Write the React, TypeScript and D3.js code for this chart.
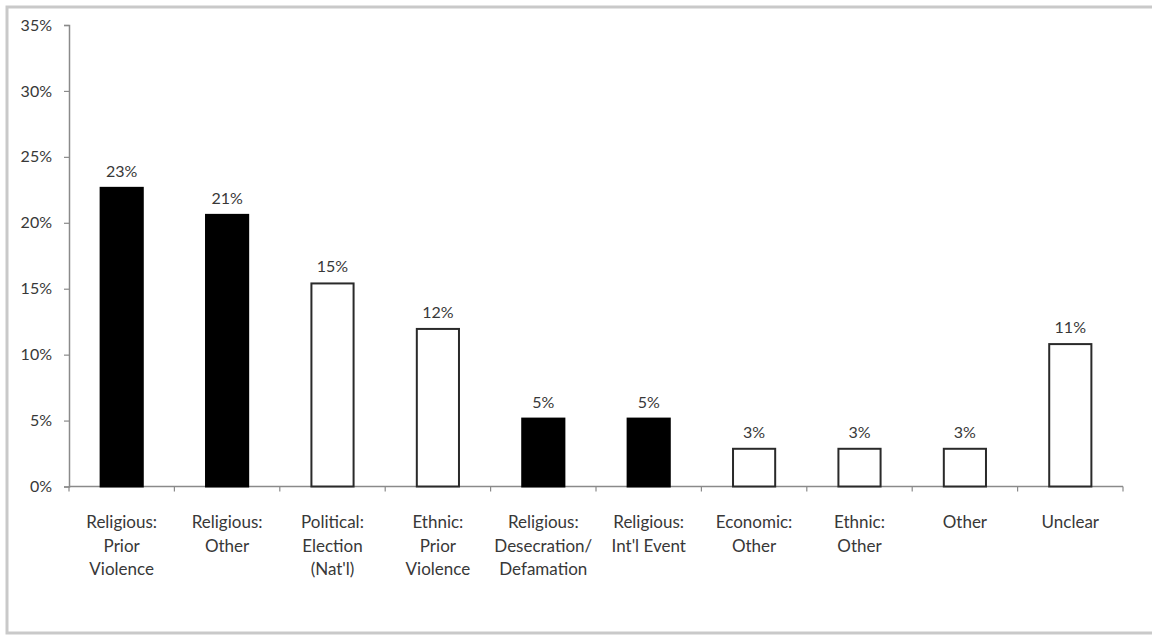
import React, { useEffect, useRef } from "react";
import * as d3 from "d3";

// Motive categories (multi-line labels) and their share of events
const categories: string[][] = [
  ["Religious:", "Prior", "Violence"],
  ["Religious:", "Other"],
  ["Political:", "Election", "(Nat'l)"],
  ["Ethnic:", "Prior", "Violence"],
  ["Religious:", "Desecration/", "Defamation"],
  ["Religious:", "Int'l Event"],
  ["Economic:", "Other"],
  ["Ethnic:", "Other"],
  ["Other"],
  ["Unclear"],
];
const shares: number[] = [0.2265, 0.206, 0.154, 0.1195, 0.0515, 0.0515, 0.0286, 0.0286, 0.0286, 0.108];
const isReligious: boolean[] = [true, true, false, false, true, true, false, false, false, false];
const yTicks: number[] = [0, 0.05, 0.1, 0.15, 0.2, 0.25, 0.3, 0.35];

const W = 1152;
const H = 635;
const FONT = "Lato, 'Open Sans', sans-serif";

export default function App() {
  const ref = useRef<SVGSVGElement>(null);

  useEffect(() => {
    const svg = d3.select(ref.current);
    svg.selectAll("*").remove();

    const left = 69;
    const right = 1123;
    const y0 = 486.5;
    const yTop = 25;

    const keys = categories.map((c) => c.join(" "));
    const x = d3.scaleBand<string>().domain(keys).range([left, right]).paddingInner(0.6).paddingOuter(0.3);
    const y = d3.scaleLinear().domain([0, 0.35]).range([y0, yTop]);
    const pct = d3.format(".0%");

    // outer frame
    svg
      .append("rect")
      .attr("x", 7)
      .attr("y", 7)
      .attr("width", W + 10)
      .attr("height", 626)
      .attr("fill", "#fff")
      .attr("stroke", "#c9c9c9")
      .attr("stroke-width", 3);

    // y axis
    const yAxis = d3
      .axisLeft(y)
      .tickValues(yTicks)
      .tickFormat((d) => pct(d as number))
      .tickSize(5)
      .tickPadding(12);
    const gy = svg.append("g").attr("transform", `translate(${left},0)`).call(yAxis);
    gy.select(".domain").attr("stroke", "#8a8a8a").attr("stroke-width", 1.5);
    gy.selectAll(".tick line").attr("stroke", "#8a8a8a").attr("stroke-width", 1.2);
    gy.selectAll(".tick text")
      .attr("fill", "#383838")
      .style("font-family", FONT)
      .style("font-size", "16px");

    // x axis baseline with ticks at band edges
    svg
      .append("line")
      .attr("x1", left)
      .attr("x2", right)
      .attr("y1", y0)
      .attr("y2", y0)
      .attr("stroke", "#8a8a8a")
      .attr("stroke-width", 1.5);
    const step = x.step();
    const edges = d3.range(keys.length + 1).map((i) => left + i * step);
    svg
      .append("g")
      .selectAll("line")
      .data(edges)
      .join("line")
      .attr("x1", (d) => d)
      .attr("x2", (d) => d)
      .attr("y1", y0)
      .attr("y2", y0 + 5)
      .attr("stroke", "#8a8a8a")
      .attr("stroke-width", 1.2);

    // bars
    svg
      .append("g")
      .selectAll("rect")
      .data(shares)
      .join("rect")
      .attr("x", (_, i) => x(keys[i])!)
      .attr("y", (d) => y(d))
      .attr("width", x.bandwidth())
      .attr("height", (d) => y0 - y(d))
      .attr("fill", (_, i) => (isReligious[i] ? "#000" : "#fff"))
      .attr("stroke", (_, i) => (isReligious[i] ? "#000" : "#2a2a2a"))
      .attr("stroke-width", 2);

    // value labels
    svg
      .append("g")
      .selectAll("text")
      .data(shares)
      .join("text")
      .attr("x", (_, i) => x(keys[i])! + x.bandwidth() / 2)
      .attr("y", (d) => y(d) - 11)
      .attr("text-anchor", "middle")
      .attr("fill", "#383838")
      .style("font-family", FONT)
      .style("font-size", "16px")
      .text((d) => pct(d));

    // category labels
    const lab = svg
      .append("g")
      .selectAll("text")
      .data(categories)
      .join("text")
      .attr("x", (_, i) => x(keys[i])! + x.bandwidth() / 2)
      .attr("y", 528)
      .attr("text-anchor", "middle")
      .attr("fill", "#383838")
      .style("font-family", FONT)
      .style("font-size", "17px");
    lab
      .selectAll("tspan")
      .data((d) => d)
      .join("tspan")
      .attr("x", function () {
        return (this.parentNode as SVGTextElement).getAttribute("x");
      })
      .attr("dy", (_, j) => (j === 0 ? 0 : 23.5))
      .text((d) => d);
  }, []);

  return (
    <svg
      ref={ref}
      width={W}
      height={H}
      style={{ position: "absolute", left: 0, top: 0, background: "#fff" }}
    />
  );
}
